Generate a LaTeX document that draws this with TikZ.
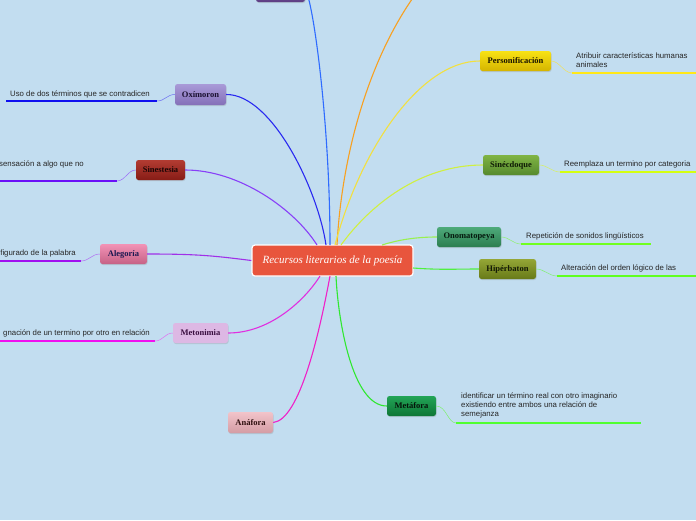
\documentclass[tikz,border=0pt]{standalone}
\usepackage{fontspec}
\setmainfont{Liberation Serif}
\newfontfamily\descfont{Liberation Sans}
\usetikzlibrary{shadows}
\definecolor{bg}{HTML}{C2DDF0}
\definecolor{rootc}{HTML}{E8553D}
\definecolor{topA}{HTML}{7A5AA0}\definecolor{topB}{HTML}{5E3E84}
\definecolor{oxA}{HTML}{A99AD8}\definecolor{oxB}{HTML}{8470B8}\definecolor{oxT}{HTML}{1A1030}
\definecolor{siA}{HTML}{B23C32}\definecolor{siB}{HTML}{871C16}\definecolor{siT}{HTML}{1A0505}
\definecolor{alA}{HTML}{F292B6}\definecolor{alB}{HTML}{C66286}\definecolor{alT}{HTML}{1A1850}
\definecolor{meF}{HTML}{DDB8E4}\definecolor{meT}{HTML}{3A0E40}
\definecolor{anA}{HTML}{F2C4CA}\definecolor{anB}{HTML}{D49CA4}\definecolor{anT}{HTML}{301010}
\definecolor{peA}{HTML}{F8E214}\definecolor{peB}{HTML}{D4B400}\definecolor{peT}{HTML}{1A1400}
\definecolor{seA}{HTML}{80B444}\definecolor{seB}{HTML}{568A2E}\definecolor{seT}{HTML}{0E1A05}
\definecolor{onA}{HTML}{4EAA7A}\definecolor{onB}{HTML}{2C7E50}\definecolor{onT}{HTML}{051A0E}
\definecolor{hiA}{HTML}{94A636}\definecolor{hiB}{HTML}{687A18}\definecolor{hiT}{HTML}{141A05}
\definecolor{mfA}{HTML}{22A456}\definecolor{mfB}{HTML}{0E7636}\definecolor{mfT}{HTML}{05140A}
% connectors
\definecolor{cTop}{HTML}{2E6BFF}\definecolor{cOr}{HTML}{F8A020}
\definecolor{cOx}{HTML}{2A2AF0}\definecolor{cSi}{HTML}{8840F8}
\definecolor{cAl}{HTML}{A030E8}\definecolor{cMe}{HTML}{E030E0}
\definecolor{cAn}{HTML}{F020C8}\definecolor{cPe}{HTML}{F2E040}
\definecolor{cSe}{HTML}{D0F040}\definecolor{cOn}{HTML}{99F050}
\definecolor{cHi}{HTML}{50F040}\definecolor{cMf}{HTML}{30E830}
% twigs and underlines
\definecolor{tOx}{HTML}{6A6AF0}\definecolor{uOx}{HTML}{1010F0}
\definecolor{tSi}{HTML}{9A6AF8}\definecolor{uSi}{HTML}{6A10F8}
\definecolor{tAl}{HTML}{B06AF0}\definecolor{uAl}{HTML}{A010F0}
\definecolor{tMe}{HTML}{E070F0}\definecolor{uMe}{HTML}{F010F0}
\definecolor{tPe}{HTML}{F0E060}\definecolor{uPe}{HTML}{FFE818}
\definecolor{tSe}{HTML}{D8F060}\definecolor{uSe}{HTML}{D4FF10}
\definecolor{tOn}{HTML}{90F070}\definecolor{uOn}{HTML}{70FF20}
\definecolor{tHi}{HTML}{80F070}\definecolor{uHi}{HTML}{60FF20}
\definecolor{tMf}{HTML}{80F070}\definecolor{uMf}{HTML}{50FF30}
\tikzset{
  box/.style={rounded corners=2.5pt, inner sep=0pt, font=\fontsize{8.5}{10}\selectfont\bfseries,
    drop shadow={opacity=0.25, shadow xshift=0.6pt, shadow yshift=-1pt}},
  desc/.style={font=\descfont\fontsize{7.8}{9}\selectfont, inner sep=0pt, text=black!85, align=left},
  main/.style={line width=1.1pt},
  twig/.style={line width=0.5pt},
  uline/.style={line width=2.6pt},
}
\begin{document}
\begin{tikzpicture}[x=1pt,y=-1pt]
\useasboundingbox (0,0) rectangle (696,520);
\fill[bg] (0,0) rectangle (696,520);
\clip (0,0) rectangle (696,520);

% root
\node[rounded corners=3pt, fill=rootc, draw=white, line width=1.2pt,
      minimum width=161pt, minimum height=31pt, inner sep=0pt,
      font=\fontsize{11}{12}\selectfont\itshape, text=white] (root) at (332.5,260.5)
      {Recursos literarios de la poesía};

% coordinates on root border
\coordinate (rtop) at (330,245);
\coordinate (ror) at (337,245);
\coordinate (roxi) at (326,245);
\coordinate (rsin) at (317,245);
\coordinate (rmet) at (320,276);
\coordinate (rana) at (330,276);
\coordinate (rper) at (335,245);
\coordinate (rsec) at (341,245);
\coordinate (rono) at (382,245);
\coordinate (rhip) at (413,268);
\coordinate (rmtf) at (336,276);
\coordinate (oend) at (428,-22);

% boxes
\node[box, top color=topA, bottom color=topB, minimum width=49pt, minimum height=22pt] (topb) at (280.5,-9) {};
\node[box, top color=oxA, bottom color=oxB, text=oxT, minimum width=51pt, minimum height=21pt] (oxi) at (200.5,94.5) {Oxímoron};
\node[box, top color=siA, bottom color=siB, text=siT, minimum width=49pt, minimum height=20pt] (sin) at (160.5,170) {Sinestesia};
\node[box, top color=alA, bottom color=alB, text=alT, minimum width=47pt, minimum height=20pt] (ale) at (123.5,254) {Alegoría};
\node[box, fill=meF, text=meT, minimum width=55pt, minimum height=20pt] (met) at (200.5,333) {Metonimia};
\node[box, top color=anA, bottom color=anB, text=anT, minimum width=45pt, minimum height=21pt] (ana) at (250.5,422.5) {Anáfora};
\node[box, top color=peA, bottom color=peB, text=peT, minimum width=71pt, minimum height=20pt] (per) at (515.5,61) {Personificación};
\node[box, top color=seA, bottom color=seB, text=seT, minimum width=56pt, minimum height=20pt] (sec) at (511,165) {Sinécdoque};
\node[box, top color=onA, bottom color=onB, text=onT, minimum width=64pt, minimum height=20pt] (ono) at (469,237) {Onomatopeya};
\node[box, top color=hiA, bottom color=hiB, text=hiT, minimum width=57pt, minimum height=20pt] (hip) at (507.5,269) {Hipérbaton};
\node[box, top color=mfA, bottom color=mfB, text=mfT, minimum width=49pt, minimum height=20pt] (mtf) at (411.5,406) {Metáfora};

% main connectors
\draw[main, cTop] (topb.east) .. controls +(6,0) and +(0,-130) .. (rtop);
\draw[main, cOr] (ror) .. controls (342,150) and (372,45) .. (oend);
\draw[main, cOx] (oxi.east) .. controls (272,94) and (318,190) .. (roxi);
\draw[main, cSi] (sin.east) .. controls (240,170) and (295,210) .. (rsin);
\draw[main, cAl] (ale.east) .. controls (200,254) and (215,256) .. (root.west);
\draw[main, cMe] (met.east) .. controls (270,333) and (305,300) .. (rmet);
\draw[main, cAn] (ana.east) .. controls (300,420) and (320,330) .. (rana);
\draw[main, cPe] (per.west) .. controls (420,61) and (360,150) .. (rper);
\draw[main, cSe] (sec.west) .. controls (420,165) and (370,205) .. (rsec);
\draw[main, cOn] (ono.west) .. controls (415,237) and (398,240) .. (rono);
\draw[main, cHi] (rhip) .. controls (440,270) and (455,269) .. (hip.west);
\draw[main, cMf] (mtf.west) .. controls (352,406) and (338,320) .. (rmtf);

% descriptions
\coordinate (oxa) at (157,101); \coordinate (oxb) at (6,101);
\node[desc, anchor=base west] (oxd) at (10,96.5) {Uso de dos términos que se contradicen};
\draw[twig, tOx] (oxi.west) .. controls +(-8,0) and +(8,0) .. (oxa);
\draw[uline, line width=2.3pt, uOx] (oxa) -- (oxb);

\coordinate (sia) at (117,181); \coordinate (sib) at (-5,181);
\node[desc, anchor=base east] (sid) at (84,166) {sensación a algo que no};
\draw[twig, tSi] (sin.west) .. controls +(-8,0) and +(8,0) .. (sia);
\draw[uline, uSi] (sia) -- (sib);

\coordinate (ala) at (81,261); \coordinate (alb) at (-5,261);
\node[desc, anchor=base east] (ald) at (76,255.5) {figurado de la palabra};
\draw[twig, tAl] (ale.west) .. controls +(-8,0) and +(8,0) .. (ala);
\draw[uline, uAl] (ala) -- (alb);

\coordinate (mea) at (155,341); \coordinate (meb) at (-5,341);
\node[desc, anchor=base east] (med) at (150,335) {gnación de un termino por otro en relación};
\draw[twig, tMe] (met.west) .. controls +(-8,0) and +(8,0) .. (mea);
\draw[uline, uMe] (mea) -- (meb);

\coordinate (pea) at (572,73); \coordinate (peb) at (700,73);
\node[desc, anchor=base west] (ped) at (576,58) {Atribuir características humanas};
\node[desc, anchor=base west] (ped2) at (576,67) {animales};
\draw[twig, tPe] (per.east) .. controls +(8,0) and +(-8,0) .. (pea);
\draw[uline, uPe] (pea) -- (peb);

\coordinate (sea) at (560,172); \coordinate (seb) at (700,172);
\node[desc, anchor=base west] (sed) at (564,166) {Reemplaza un termino por categoria};
\draw[twig, tSe] (sec.east) .. controls +(8,0) and +(-8,0) .. (sea);
\draw[uline, uSe] (sea) -- (seb);

\coordinate (ona) at (521,244); \coordinate (onb) at (651,244);
\node[desc, anchor=base west] (ond) at (526,238) {Repetición de sonidos lingüísticos};
\draw[twig, tOn] (ono.east) .. controls +(8,0) and +(-8,0) .. (ona);
\draw[uline, uOn] (ona) -- (onb);

\coordinate (hia) at (557,276); \coordinate (hib) at (700,276);
\node[desc, anchor=base west] (hid) at (561,270) {Alteración del orden lógico de las};
\draw[twig, tHi] (hip.east) .. controls +(8,0) and +(-8,0) .. (hia);
\draw[uline, uHi] (hia) -- (hib);

\coordinate (mfa) at (456,423); \coordinate (mfb) at (641,423);
\node[desc, anchor=base west] (mfd) at (461,398) {identificar un término real con otro imaginario};
\node[desc, anchor=base west] (mfd2) at (461,407) {existiendo entre ambos una relación de};
\node[desc, anchor=base west] (mfd3) at (461,416) {semejanza};
\draw[twig, tMf] (mtf.east) .. controls +(10,0) and +(-8,0) .. (mfa);
\draw[uline, uMf] (mfa) -- (mfb);
\end{tikzpicture}
\end{document}
